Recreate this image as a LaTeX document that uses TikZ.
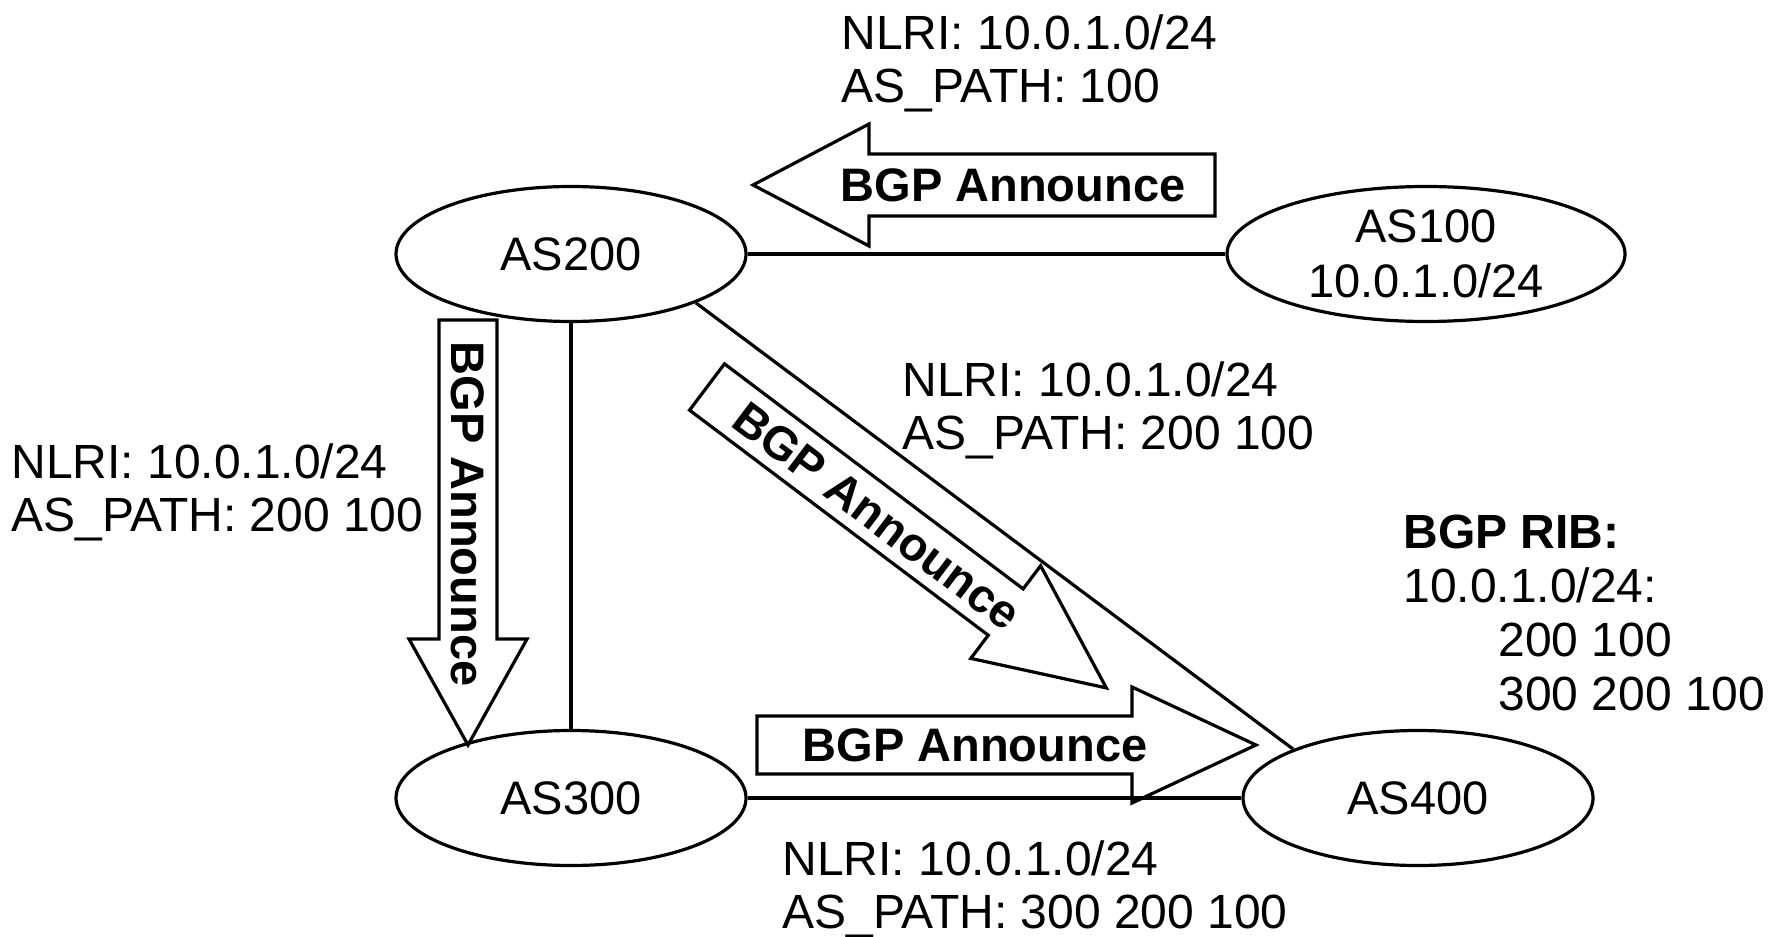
\documentclass[tikz,border=0pt]{standalone}
\usepackage{fontspec}
\setmainfont{Liberation Sans}
\usetikzlibrary{shapes.geometric}

\tikzset{
	as/.style={draw, ellipse, line width=1.6pt, inner sep=0pt,
		minimum width=175pt, minimum height=67.5pt,
		font=\fontsize{23.5}{27.5}\selectfont, align=center},
	link/.style={line width=1.6pt},
	bigarrow/.style={draw, line width=1.6pt},
	announce/.style={font=\fontsize{23.5}{27}\selectfont\bfseries, inner sep=0pt},
	info/.style={font=\fontsize{24}{26.5}\selectfont, align=left,
		anchor=base west, inner sep=0pt},
}

\begin{document}
\begin{tikzpicture}[x=0.5pt,y=-0.5pt]

% parameters %{{{2

	% ---- block arrow: tail, angle, length, head length, shaft half, head half

	\def\blockarrow#1#2#3#4#5#6{%
		\begin{scope}[shift={(#1)}, rotate=#2]
			\draw[bigarrow] (0,-#5) -- ({#3-#4},-#5) -- ({#3-#4},-#6) -- (#3,0)
				-- ({#3-#4},#6) -- ({#3-#4},#5) -- (0,#5) -- cycle;
		\end{scope}}

	\useasboundingbox (0,0) rectangle (1770,936);

% autonomous systems %{{{2

	\node[as] (as200) at (571,254) {AS200};
	\node[as, minimum width=199pt] (as100) at (1426,254) {AS100\\10.0.1.0/24};
	\node[as] (as300) at (571,798) {AS300};
	\node[as] (as400) at (1418,798) {AS400};

% links %{{{2

	\draw[link] (as200.east) -- (as100.west);
	\draw[link] (as200.south) -- (as300.north);
	\draw[link] (as300.east) -- (as400.west);
	\draw[link] (as200.south east) -- (as400.north west);

% announcements %{{{2

	\coordinate (t100) at (1215,185);
	\coordinate (t200a) at (468,320);
	\coordinate (t200b) at (707,387);
	\coordinate (t300) at (757,745);

	\blockarrow{t100}{180}{462}{116}{31}{61}
	\blockarrow{t200a}{-90}{425}{106}{29}{59}
	\blockarrow{t200b}{-37}{500}{126}{29}{58}
	\blockarrow{t300}{0}{499}{124}{29}{58}

	\node[announce] (ann100) at (1013,185) {BGP Announce};
	\node[announce, rotate=-90] (ann200a) at (468,514) {BGP Announce};
	\node[announce, rotate=-37] (ann200b) at (877,516) {BGP Announce};
	\node[announce] (ann300) at (975,745) {BGP Announce};

% update contents %{{{2

	% ---- anchored at the baseline of the last line

	\node[info] (upd100) at (841,103) {NLRI: 10.0.1.0/24\\AS\_PATH: 100};
	\node[info] (upd200a) at (11,531) {NLRI: 10.0.1.0/24\\AS\_PATH: 200 100};
	\node[info] (upd200b) at (902,449) {NLRI: 10.0.1.0/24\\AS\_PATH: 200 100};
	\node[info] (upd300) at (782,928) {NLRI: 10.0.1.0/24\\AS\_PATH: 300 200 100};

	% ---- routing table of AS400

	\node[info, font=\fontsize{24}{27}\selectfont] (rib) at (1403,710)
		{\textbf{BGP RIB:}\\10.0.1.0/24:\\
		\hspace*{47.5pt}200 100\\\hspace*{47.5pt}300 200 100};

% closing %{{{2

\end{tikzpicture}
\end{document}
